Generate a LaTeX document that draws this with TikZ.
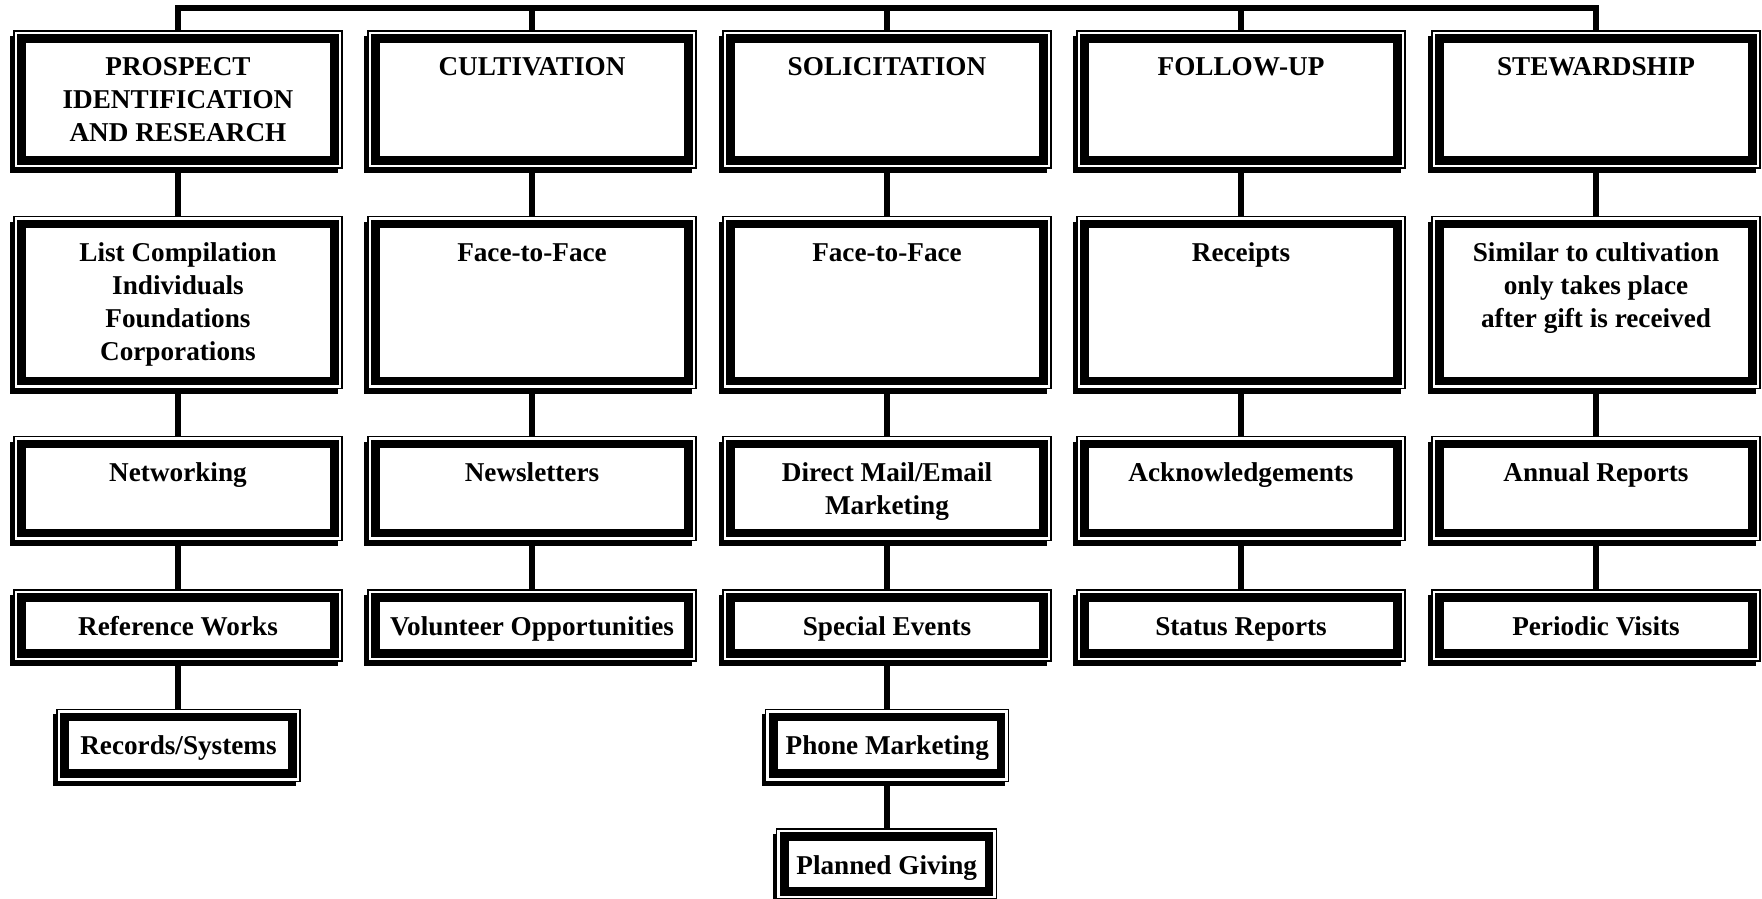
\documentclass[tikz,border=0pt]{standalone}
\usepackage{fontspec}
\setmainfont{Liberation Serif}
\usetikzlibrary{shadows}
\tikzset{
  fbox/.style={rectangle, draw=black, line width=0.6pt, fill=white, inner sep=0pt, outer sep=0pt, anchor=north,
    font=\fontsize{13.6pt}{16.5pt}\selectfont\bfseries,
    drop shadow={shadow xshift=-2pt, shadow yshift=-2.5pt, fill=black, opacity=1},
    path picture={\draw[line width=4.25pt] ([shift={(3.8pt,-3.8pt)}]path picture bounding box.north west) rectangle ([shift={(-3.8pt,3.8pt)}]path picture bounding box.south east);}},
  conn/.style={line width=3pt, draw=black}
}
\newcommand\bx[6]{%
  \node[fbox, minimum width=#4pt, minimum height=#5pt] (#1) at (#2,#3)
    {\begin{minipage}[c][#5pt][t]{#4pt}\centering\rule{0pt}{22.5pt}#6\end{minipage}};}
\begin{document}
\begin{tikzpicture}[x=0.5pt,y=-0.5pt]
\useasboundingbox (0,0) rectangle (1762,899);
% row 1
\bx{t1}{178}{31}{164}{68.5}{PROSPECT\\IDENTIFICATION\\AND RESEARCH}
\bx{t2}{532}{31}{164}{68.5}{CULTIVATION}
\bx{t3}{887}{31}{164}{68.5}{SOLICITATION}
\bx{t4}{1241}{31}{164}{68.5}{FOLLOW-UP}
\bx{t5}{1596}{31}{164}{68.5}{STEWARDSHIP}
% row 2
\bx{a1}{178}{216.5}{164}{86}{List Compilation\\Individuals\\Foundations\\Corporations}
\bx{a2}{532}{216.5}{164}{86}{Face-to-Face}
\bx{a3}{887}{216.5}{164}{86}{Face-to-Face}
\bx{a4}{1241}{216.5}{164}{86}{Receipts}
\bx{a5}{1596}{216.5}{164}{86}{Similar to cultivation\\only takes place\\after gift is received}
% row 3
\bx{b1}{178}{436.5}{164}{52}{Networking}
\bx{b2}{532}{436.5}{164}{52}{Newsletters}
\bx{b3}{887}{436.5}{164}{52}{Direct Mail/Email\\Marketing}
\bx{b4}{1241}{436.5}{164}{52}{Acknowledgements}
\bx{b5}{1596}{436.5}{164}{52}{Annual Reports}
% row 4
\bx{c1}{178}{590}{164}{35.5}{Reference Works}
\bx{c2}{532}{590}{164}{35.5}{Volunteer Opportunities}
\bx{c3}{887}{590}{164}{35.5}{Special Events}
\bx{c4}{1241}{590}{164}{35.5}{Status Reports}
\bx{c5}{1596}{590}{164}{35.5}{Periodic Visits}
% row 5 and 6
\bx{d1}{178.5}{709.3}{121.5}{36}{Records/Systems}
\bx{d3}{887.3}{709.3}{121.5}{36}{Phone Marketing}
\bx{e3}{886.7}{829}{110}{35}{Planned Giving}
% bus
\coordinate (bus) at (887,8.5);
\draw[conn] (t1.north) |- (bus) -| (t5.north);
\foreach \n in {t2,t3,t4} \draw[conn] (\n.north) -- (\n.north |- bus);
% vertical connectors
\foreach \u/\l in {t1/a1,a1/b1,b1/c1,c1/d1,t2/a2,a2/b2,b2/c2,t3/a3,a3/b3,b3/c3,c3/d3,d3/e3,t4/a4,a4/b4,b4/c4,t5/a5,a5/b5,b5/c5}
  \draw[conn] (\u.south) -- (\u.south |- \l.north);
\end{tikzpicture}
\end{document}
